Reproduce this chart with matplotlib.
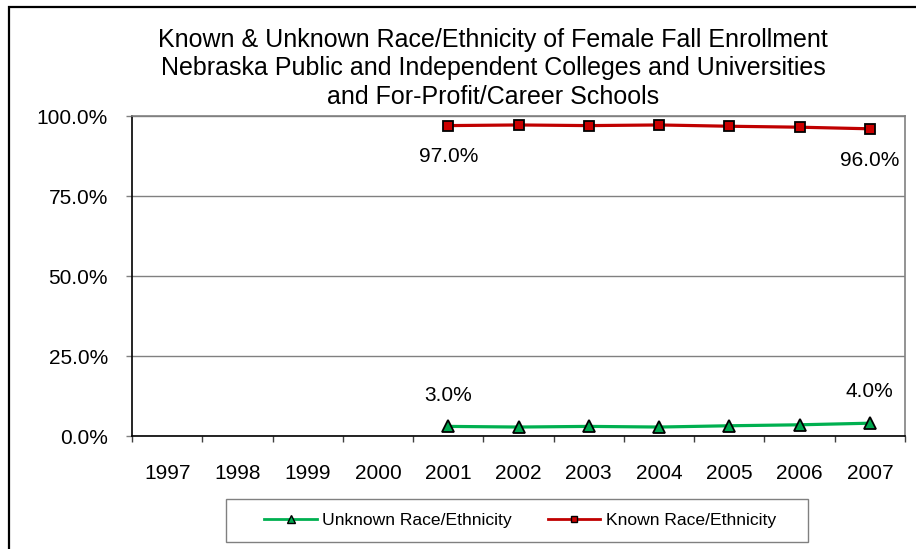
import matplotlib
matplotlib.use("Agg")
import matplotlib.pyplot as plt
from matplotlib.patches import Rectangle
from matplotlib.lines import Line2D

# ---- data ----
years = ["1997", "1998", "1999", "2000", "2001", "2002", "2003", "2004", "2005", "2006", "2007"]
data_years = ["2001", "2002", "2003", "2004", "2005", "2006", "2007"]
unknown = [3.0, 2.8, 3.0, 2.8, 3.2, 3.5, 4.0]
known = [97.0, 97.2, 97.0, 97.2, 96.8, 96.5, 96.0]
y_ticks = [0, 25, 50, 75, 100]
title_lines = [
    "Known & Unknown Race/Ethnicity of Female Fall Enrollment",
    "Nebraska Public and Independent Colleges and Universities",
    "and For-Profit/Career Schools",
]
series_names = ["Unknown Race/Ethnicity", "Known Race/Ethnicity"]

plt.rcParams['font.family'] = ['Liberation Sans', 'DejaVu Sans']

W, H = 916, 549
fig = plt.figure(figsize=(W / 100, H / 100), dpi=100)

def fx(px):
    return px / W

def fy(py):
    return 1 - py / H

# outer chart border (only left and top visible)
fig.patches.append(Rectangle((fx(9), -0.2), 1.5, fy(7) + 0.2, transform=fig.transFigure,
                             fill=False, edgecolor='black', linewidth=1.6, zorder=0))

ax = fig.add_axes([fx(132), fy(436), fx(905) - fx(132), fy(116) - fy(436)])

x = [years.index(y) for y in data_years]

green = '#00B050'
red = '#C00000'

ax.plot(x, known, color=red, lw=2.3, marker='s', ms=7.2, mfc='#CC0000', mec='black', mew=1.3,
        zorder=3, clip_on=False)
ax.plot(x, unknown, color=green, lw=2.3, marker='^', ms=9, mfc='#00A84F', mec='black', mew=1.3,
        zorder=3, clip_on=False)

# data labels for first and last points
for series, off in ((known, -22.5), (unknown, 22.5)):
    for i in (0, len(series) - 1):
        ax.annotate(f"{series[i]:.1f}%", (x[i], series[i]), xytext=(0, off), textcoords='offset points',
                    ha='center', va='center', fontsize=15, color='black')

ax.set_xlim(-0.5, len(years) - 0.5)
ax.set_ylim(0, 100)
ax.set_yticks(y_ticks)
ax.set_yticklabels([f"{v:.1f}%" for v in y_ticks])
ax.set_xticks(range(len(years)))
ax.set_xticklabels(years)
ax.set_xticks([i - 0.5 for i in range(len(years) + 1)], minor=True)

ax.tick_params(axis='x', which='major', length=0, pad=20, labelsize=15)
ax.tick_params(axis='x', which='minor', length=4.5, width=1, color='#404040', direction='out')
ax.tick_params(axis='y', which='major', length=4.3, width=1, color='#808080', pad=13, labelsize=15,
               direction='out')

ax.grid(axis='y', color='#808080', linewidth=1)
ax.set_axisbelow(True)
for s in ('top', 'right'):
    ax.spines[s].set_color('#808080')
    ax.spines[s].set_linewidth(1.2)
for s in ('left', 'bottom'):
    ax.spines[s].set_color('black')
    ax.spines[s].set_linewidth(1.2)

# title
for line, base in zip(title_lines, (47, 75.5, 104)):
    fig.text(fx(493), fy(base), line, ha='center', va='baseline', fontsize=18)

# legend
fig.patches.append(Rectangle((fx(226), fy(542)), fx(808) - fx(226), fy(499) - fy(542),
                             transform=fig.transFigure, fill=False, edgecolor='#808080', linewidth=1))
handles = [
    Line2D([], [], color=green, lw=2, marker='^', ms=5.5, mfc='#00A84F', mec='black', mew=1),
    Line2D([], [], color=red, lw=2, marker='s', ms=5, mfc='#CC0000', mec='black', mew=1),
]
fig.legend(handles, series_names, loc='center', bbox_to_anchor=(fx(520), fy(520.7)),
           bbox_transform=fig.transFigure, ncol=2, frameon=False, fontsize=12.6,
           handlelength=3.0, handletextpad=0.3, columnspacing=2.06, borderpad=0, borderaxespad=0)

fig.savefig("out.png", dpi=100)
